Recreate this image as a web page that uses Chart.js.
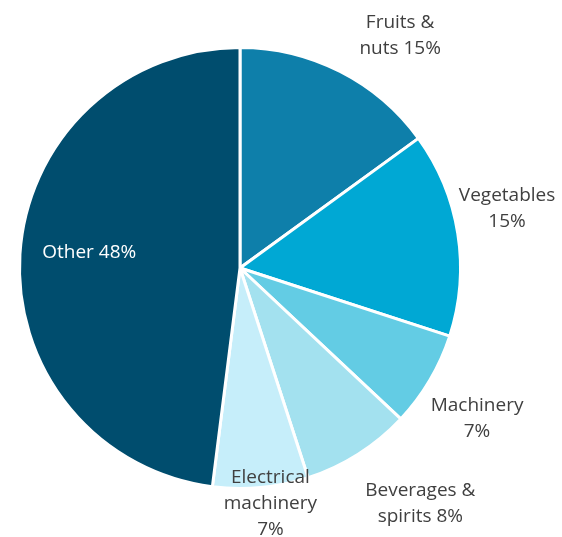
<!DOCTYPE html>
<html>
<head>
<meta charset="utf-8">
<script src="https://cdn.jsdelivr.net/npm/chart.js@4.4.1/dist/chart.umd.min.js"></script>
<style>
  html, body { margin: 0; padding: 0; background: #fff; }
  canvas { display: block; }
</style>
</head>
<body>
<canvas id="myChart" width="562" height="537"></canvas>
<script>
var categorias = ["Fruits & nuts", "Vegetables", "Machinery", "Beverages & spirits", "Electrical machinery", "Other"];
var valores = [15, 15, 7, 8, 7, 48];
var etiquetas = [
    ["Fruits &", "nuts 15%"],
    ["Vegetables", "15%"],
    ["Machinery", "7%"],
    ["Beverages &", "spirits 8%"],
    ["Electrical", "machinery", "7%"],
    ["Other 48%"]
];
var colores = ["#0E7FAA", "#00A8D4", "#63CCE4", "#A3E1EF", "#C6EEFA", "#004D6E"];

// donde va cada etiqueta: distancia radial (x radio) y un pequeño ajuste
var distEtiqueta = [1.27, 1.24, 1.27, 1.34, 1.08, 0.685];
var ajusteEtiqueta = [[33, 17], [-3, -17], [-4, 8], [22, -14], [8, -1], [0, -6]];
var colorTexto = ["#404040", "#404040", "#404040", "#404040", "#404040", "#FFFFFF"];

var pluginEtiquetas = {
    id: "etiquetas",
    afterDatasetsDraw: function(chart) {
        var ctx = chart.ctx;
        var arcos = chart.getDatasetMeta(0).data;
        ctx.save();
        ctx.font = "19px 'Open Sans'";
        ctx.textAlign = "center";
        ctx.textBaseline = "middle";
        for (var i = 0; i < arcos.length; i++) {
            var a = arcos[i];
            var medio = (a.startAngle + a.endAngle) / 2;
            var r = a.outerRadius * distEtiqueta[i];
            var x = a.x + Math.cos(medio) * r + ajusteEtiqueta[i][0];
            var y = a.y + Math.sin(medio) * r + ajusteEtiqueta[i][1];
            var lineas = etiquetas[i];
            var alto = 26;
            var y0 = y - (lineas.length - 1) * alto / 2;
            ctx.fillStyle = colorTexto[i];
            for (var j = 0; j < lineas.length; j++) {
                ctx.fillText(lineas[j], x, y0 + j * alto);
            }
        }
        ctx.restore();
    }
};

var ctx = document.getElementById("myChart").getContext("2d");
var myChart = new Chart(ctx, {
    type: "pie",
    data: {
        labels: categorias,
        datasets: [{
            data: valores,
            backgroundColor: colores,
            borderColor: "#FFFFFF",
            borderWidth: 3,
            hoverOffset: 0
        }]
    },
    options: {
        responsive: false,
        animation: false,
        devicePixelRatio: 1,
        layout: { padding: { left: 18, right: 100, top: 46, bottom: 47 } },
        plugins: {
            legend: { display: false },
            tooltip: { enabled: false }
        }
    },
    plugins: [pluginEtiquetas]
});
</script>
</body>
</html>
